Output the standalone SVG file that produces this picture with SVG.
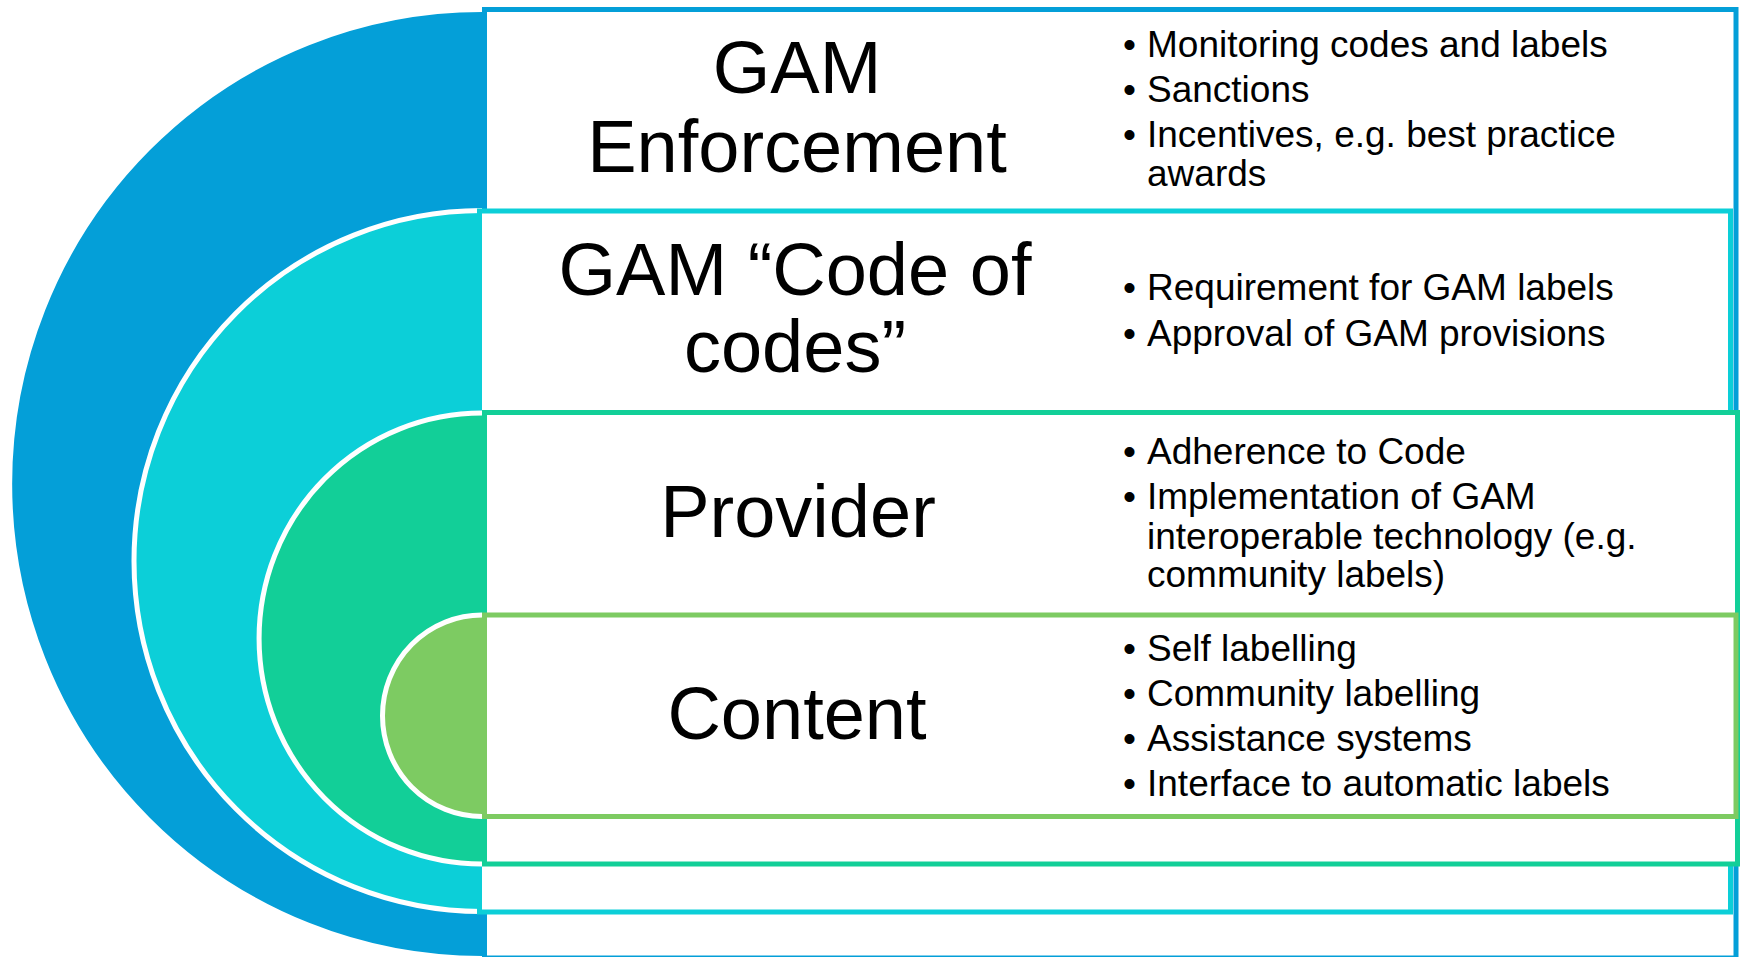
<svg xmlns="http://www.w3.org/2000/svg" width="1741" height="957" viewBox="0 0 1741 957">
  <style>
    .arc { stroke: #ffffff; stroke-width: 5; }
    .box { fill: #ffffff; stroke-width: 5; }
    .title { font-family: "Liberation Sans", Arial, sans-serif; font-size: 74px; fill: #000000; text-anchor: middle; }
    .item { font-family: "Liberation Sans", Arial, sans-serif; font-size: 37px; fill: #000000; }
    .l1 { fill: #049FD8; } .s1 { stroke: #049FD8; }
    .l2 { fill: #0CCFD8; } .s2 { stroke: #0CCFD8; }
    .l3 { fill: #12CF98; } .s3 { stroke: #12CF98; }
    .l4 { fill: #7DCB62; } .s4 { stroke: #7DCB62; }
  </style>
  <rect width="1741" height="957" fill="#ffffff"/>

  <!-- Layer 1: enforcement -->
  <g id="enforcement">
    <path class="arc l1" d="M482,9.5 A472.5,474.5 0 0 0 482,958.5"/>
    <rect class="box s1" x="484.5" y="9.5" width="1251.5" height="948.5"/>
    <text class="title" x="797" y="93">GAM</text>
    <text class="title" x="797" y="172">Enforcement</text>
    <g class="item">
      <text x="1123" y="57">•</text><text x="1147" y="57">Monitoring codes and labels</text>
      <text x="1123" y="102">•</text><text x="1147" y="102">Sanctions</text>
      <text x="1123" y="147">•</text><text x="1147" y="147">Incentives, e.g. best practice</text>
      <text x="1147" y="186">awards</text>
    </g>
  </g>

  <!-- Layer 2: code of codes -->
  <g id="code-of-codes">
    <path class="arc l2" d="M482,210.5 A348,350.5 0 0 0 482,911.5"/>
    <rect class="box s2" x="479.5" y="211" width="1251" height="701"/>
    <text class="title" x="795" y="295">GAM “Code of</text>
    <text class="title" x="795" y="372">codes”</text>
    <g class="item">
      <text x="1123" y="300">•</text><text x="1147" y="300">Requirement for GAM labels</text>
      <text x="1123" y="346">•</text><text x="1147" y="346">Approval of GAM provisions</text>
    </g>
  </g>

  <!-- Layer 3: provider -->
  <g id="provider">
    <path class="arc l3" d="M482,413 A223,225.5 0 0 0 482,864"/>
    <rect class="box s3" x="484.5" y="412.5" width="1253" height="451.5"/>
    <text class="title" x="798" y="537">Provider</text>
    <g class="item">
      <text x="1123" y="464">•</text><text x="1147" y="464">Adherence to Code</text>
      <text x="1123" y="509">•</text><text x="1147" y="509">Implementation of GAM</text>
      <text x="1147" y="549">interoperable technology (e.g.</text>
      <text x="1147" y="587">community labels)</text>
    </g>
  </g>

  <!-- Layer 4: content -->
  <g id="content">
    <path class="arc l4" d="M482,615 A99.5,100.75 0 0 0 482,816.5"/>
    <rect class="box s4" x="484.5" y="615" width="1251.5" height="201.5"/>
    <text class="title" x="797" y="739">Content</text>
    <g class="item">
      <text x="1123" y="661">•</text><text x="1147" y="661">Self labelling</text>
      <text x="1123" y="706">•</text><text x="1147" y="706">Community labelling</text>
      <text x="1123" y="751">•</text><text x="1147" y="751">Assistance systems</text>
      <text x="1123" y="796">•</text><text x="1147" y="796">Interface to automatic labels</text>
    </g>
  </g>
</svg>
